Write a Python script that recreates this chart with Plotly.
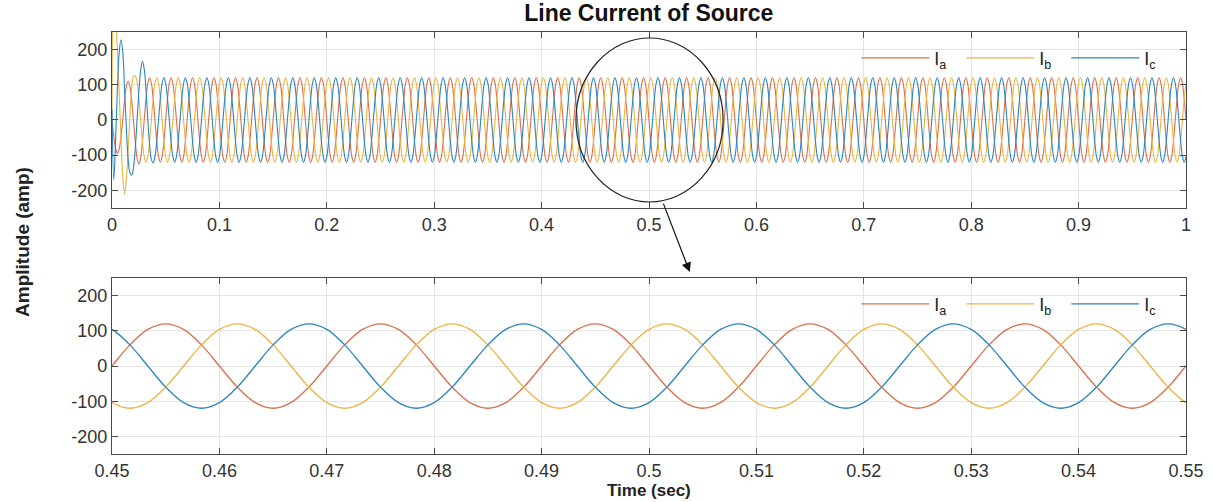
import numpy as np
import plotly.graph_objects as go

# ---------------- data ----------------
sample_step = 1 / 600          # seconds between read samples (30 deg of a 50 Hz cycle)
t_end = 1.0                    # seconds

# one steady-state cycle of each phase current (amp), samples every 30 deg from t = 0
ia_cycle = [0, -60, -104, -120, -104, -60, 0, 60, 104, 120, 104, 60]
ib_cycle = [104, 120, 104, 60, 0, -60, -104, -120, -104, -60, 0, 60]
ic_cycle = [-104, -60, 0, 60, 104, 120, 104, 60, 0, -60, -104, -120]

# start-up transient samples (amp) read at the beginning of the upper plot
ia_start = [0, -45, -80, -95, -82, -48, 0, 55, 95, 110, 95, 55, 0, -62, -108, -125, -108, -62]
ib_start = [0, 320, 290, 200, 80, -50, -160, -210, -170, -90, 10, 90, 123, 125, 108, 62]
ic_start = [30, -170, -60, 90, 190, 228, 195, 90, -20, -110, -150, -157, -135, -80, 0,
            80, 140, 167, 145, 85, 0, -70, -112, -122]

series_names = ["I<sub>a</sub>", "I<sub>b</sub>", "I<sub>c</sub>"]
series_colors = ["#D8704C", "#EDB440", "#2A86BE"]

top_xticks = [0, 0.1, 0.2, 0.3, 0.4, 0.5, 0.6, 0.7, 0.8, 0.9, 1]
top_xlabels = ["0", "0.1", "0.2", "0.3", "0.4", "0.5", "0.6", "0.7", "0.8", "0.9", "1"]
bot_xticks = [0.45, 0.46, 0.47, 0.48, 0.49, 0.5, 0.51, 0.52, 0.53, 0.54, 0.55]
bot_xlabels = ["0.45", "0.46", "0.47", "0.48", "0.49", "0.5", "0.51", "0.52", "0.53", "0.54", "0.55"]
yticks = [-200, -100, 0, 100, 200]
ylabels = ["-200", "-100", "0", "100", "200"]

# ---------------- build the sampled waveforms ----------------
n = int(round(t_end / sample_step)) + 1
t = np.arange(n) * sample_step


def build(start, cycle):
    return [start[k] if k < len(start) else cycle[k % len(cycle)] for k in range(n)]


currents = [build(ia_start, ia_cycle), build(ib_start, ib_cycle), build(ic_start, ic_cycle)]

# ---------------- figure ----------------
FONT = "Liberation Sans, Arial, Helvetica, sans-serif"
AX = "#4a4a4a"
GRID = "#e4e4e4"

fig = go.Figure()
for name, col, y in zip(series_names, series_colors, currents):
    fig.add_trace(go.Scatter(x=t, y=y, mode="lines", name=name,
                             line=dict(color=col, width=1.1, shape="spline"),
                             xaxis="x", yaxis="y", legend="legend"))
for name, col, y in zip(series_names, series_colors, currents):
    fig.add_trace(go.Scatter(x=t, y=y, mode="lines", name=name,
                             line=dict(color=col, width=1.3, shape="spline"),
                             xaxis="x2", yaxis="y2", legend="legend2"))

axis_common = dict(showline=True, linecolor=AX, linewidth=1.2, mirror="allticks",
                   ticks="inside", ticklen=6, tickcolor=AX, tickwidth=1.2,
                   showgrid=True, gridcolor=GRID, gridwidth=1, zeroline=False,
                   tickfont=dict(family=FONT, size=18, color="#333333"))

legend_common = dict(orientation="h", xanchor="left", yanchor="middle",
                     bgcolor="rgba(0,0,0,0)", borderwidth=0, itemwidth=68,
                     entrywidth=22, entrywidthmode="pixels",
                     font=dict(family=FONT, size=18, color="#222222"),
                     itemclick=False, itemdoubleclick=False)

fig.update_layout(
    width=1215, height=502,
    margin=dict(l=112, r=29, t=32, b=48),
    paper_bgcolor="white", plot_bgcolor="white",
    xaxis=dict(domain=[0, 1], range=[0, 1], anchor="y",
               tickvals=top_xticks, ticktext=top_xlabels, **axis_common),
    yaxis=dict(domain=[0.583, 1], range=[-250, 250], anchor="x",
               tickvals=yticks, ticktext=ylabels, **axis_common),
    xaxis2=dict(domain=[0, 1], range=[0.45, 0.55], anchor="y2",
                tickvals=bot_xticks, ticktext=bot_xlabels, **axis_common),
    yaxis2=dict(domain=[0, 0.417], range=[-250, 250], anchor="x2",
                tickvals=yticks, ticktext=ylabels, **axis_common),
    legend=dict(x=0.693, y=0.938, **legend_common),
    legend2=dict(x=0.693, y=0.355, **legend_common),
    title=dict(text="<b>Line Current of Source</b>", x=0.534, xref="container",
               y=1 - 13 / 502, yref="container", xanchor="center", yanchor="middle",
               font=dict(family=FONT, size=23, color="#111111")),
    showlegend=True,
)

# magnifier circle on the upper plot and arrow to the zoomed plot
fig.add_shape(type="circle", xref="x", yref="y", x0=0.432, x1=0.569, y0=-233, y1=233,
              line=dict(color="#222222", width=1.2), layer="above")
fig.add_annotation(xref="paper", yref="paper", x=0.538, y=0.431, ax=-27, ay=-70,
                   text="", showarrow=True, arrowhead=2, arrowsize=1.6, arrowwidth=1.2,
                   arrowcolor="#111111", standoff=0, startstandoff=0)

fig.add_annotation(xref="paper", yref="paper", x=-0.084, y=0.502, text="<b>Amplitude (amp)</b>",
                   textangle=-90, showarrow=False, xanchor="center", yanchor="middle",
                   font=dict(family=FONT, size=19, color="#222222"))
fig.add_annotation(xref="paper", yref="paper", x=0.5, y=-0.087, text="<b>Time (sec)</b>",
                   showarrow=False, xanchor="center", yanchor="middle",
                   font=dict(family=FONT, size=17, color="#222222"))

fig.write_html("out.html")
